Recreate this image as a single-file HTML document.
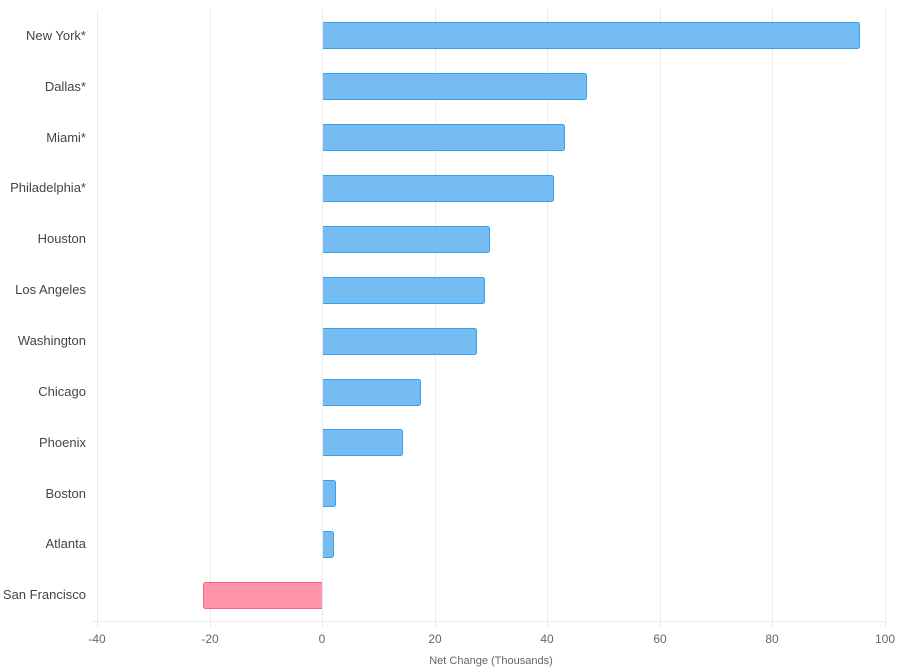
<!DOCTYPE html>
<html><head><style>body{margin:0;background:#fff}svg{display:block;font-family:"Liberation Sans",Arial,sans-serif}</style></head><body>
<svg width="900" height="672" viewBox="0 0 900 672">
<g stroke="#ebebeb" stroke-width="1">
<line x1="97.5" y1="10" x2="97.5" y2="627"/>
<line x1="210.5" y1="10" x2="210.5" y2="627"/>
<line x1="322.5" y1="10" x2="322.5" y2="627"/>
<line x1="435.5" y1="10" x2="435.5" y2="627"/>
<line x1="547.5" y1="10" x2="547.5" y2="627"/>
<line x1="660.5" y1="10" x2="660.5" y2="627"/>
<line x1="772.5" y1="10" x2="772.5" y2="627"/>
<line x1="885.5" y1="10" x2="885.5" y2="627"/>
<line x1="92" y1="621.5" x2="885" y2="621.5"/>
</g>
<g fill="#74bcf1" stroke="#36a2eb" stroke-width="1">
<path d="M323 22.5 H857.5 a2 2 0 0 1 2 2 V46.5 a2 2 0 0 1 -2 2 H323"/>
<path d="M323 73.5 H584.5 a2 2 0 0 1 2 2 V97.5 a2 2 0 0 1 -2 2 H323"/>
<path d="M323 124.5 H562.5 a2 2 0 0 1 2 2 V148.5 a2 2 0 0 1 -2 2 H323"/>
<path d="M323 175.5 H551.5 a2 2 0 0 1 2 2 V199.5 a2 2 0 0 1 -2 2 H323"/>
<path d="M323 226.5 H487.5 a2 2 0 0 1 2 2 V250.5 a2 2 0 0 1 -2 2 H323"/>
<path d="M323 277.5 H482.5 a2 2 0 0 1 2 2 V301.5 a2 2 0 0 1 -2 2 H323"/>
<path d="M323 328.5 H474.5 a2 2 0 0 1 2 2 V352.5 a2 2 0 0 1 -2 2 H323"/>
<path d="M323 379.5 H418.5 a2 2 0 0 1 2 2 V403.5 a2 2 0 0 1 -2 2 H323"/>
<path d="M323 429.5 H400.5 a2 2 0 0 1 2 2 V453.5 a2 2 0 0 1 -2 2 H323"/>
<path d="M323 480.5 H333.5 a2 2 0 0 1 2 2 V504.5 a2 2 0 0 1 -2 2 H323"/>
<path d="M323 531.5 H331.5 a2 2 0 0 1 2 2 V555.5 a2 2 0 0 1 -2 2 H323"/>
</g>
<path d="M322 582.5 H205.5 a2 2 0 0 0 -2 2 V606.5 a2 2 0 0 0 2 2 H322" fill="#ff94aa" stroke="#ff6384" stroke-width="1"/>
<g font-size="13" fill="#444" text-anchor="end">
<text x="86" y="40">New York*</text>
<text x="86" y="91">Dallas*</text>
<text x="86" y="142">Miami*</text>
<text x="86" y="192">Philadelphia*</text>
<text x="86" y="243">Houston</text>
<text x="86" y="294">Los Angeles</text>
<text x="86" y="345">Washington</text>
<text x="86" y="396">Chicago</text>
<text x="86" y="447">Phoenix</text>
<text x="86" y="498">Boston</text>
<text x="86" y="548">Atlanta</text>
<text x="86" y="599">San Francisco</text>
</g>
<g font-size="12" fill="#666" text-anchor="middle">
<text x="97" y="643">-40</text>
<text x="210" y="643">-20</text>
<text x="322" y="643">0</text>
<text x="435" y="643">20</text>
<text x="547" y="643">40</text>
<text x="660" y="643">60</text>
<text x="772" y="643">80</text>
<text x="885" y="643">100</text>
<text x="491" y="664" font-size="11">Net Change (Thousands)</text>
</g>
</svg>
</body></html>
